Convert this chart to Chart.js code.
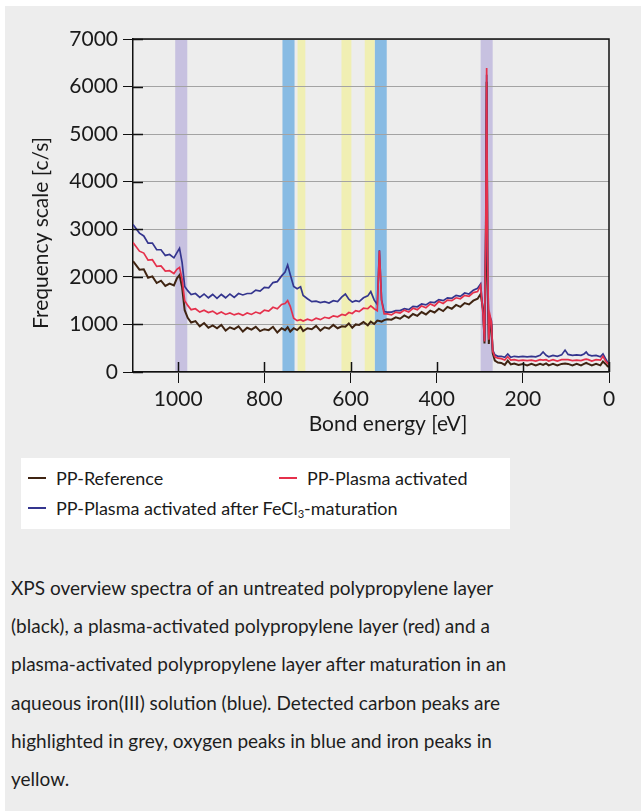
<!DOCTYPE html>
<html>
<head>
<meta charset="utf-8">
<script src="https://cdn.jsdelivr.net/npm/chart.js@4.4.1/dist/chart.umd.min.js"></script>
<style>
    body { margin: 0; background: #fff; font-family: Lato, sans-serif; }
    #panel { position: absolute; left: 5px; top: 6px; width: 636px; height: 805px; background: #ededed; }
    #chartBox { position: absolute; left: 0; top: 0; width: 641px; height: 455px; }
    #legend { position: absolute; left: 21px; top: 458px; width: 489px; height: 71px; background: #fff; }
    .mark { position: absolute; width: 18px; height: 2px; }
    .item { position: absolute; font-size: 18px; line-height: 19px; color: #1a1a1a; white-space: nowrap; }
    .item sub { font-size: 0.62em; vertical-align: -0.3em; line-height: 0; }
    #caption { position: absolute; left: 11px; top: 569px; font-size: 19px; line-height: 38.2px; color: #1e1e1e; white-space: nowrap; }
</style>
</head>
<body>
<div id="panel"></div>
<div id="chartBox"><canvas id="xpsChart"></canvas></div>
<div id="legend"></div>
<div id="caption">XPS overview spectra of an untreated polypropylene layer<br>(black), a plasma-activated polypropylene layer (red) and a<br>plasma-activated polypropylene layer after maturation in an<br>aqueous iron(III) solution (blue). Detected carbon peaks are<br>highlighted in grey, oxygen peaks in blue and iron peaks in<br>yellow.</div>
<script>
// binding energy in eV
const energies = [
    1105, 1090, 1080, 1070, 1060, 1050, 1040, 1030, 1020, 1010,
    1003, 997, 991, 985, 978, 970, 960, 950, 940, 930,
    920, 910, 900, 890, 880, 870, 860, 850, 840, 830,
    820, 810, 800, 790, 780, 770, 760, 752, 746, 740,
    732, 724, 716, 710, 700, 690, 680, 670, 660, 650,
    640, 630, 620, 612, 604, 596, 588, 580, 570, 560,
    553, 545, 538, 533, 528, 522, 515, 505, 495, 485,
    475, 465, 455, 445, 435, 425, 415, 405, 395, 385,
    375, 365, 355, 345, 335, 325, 315, 305, 298, 292,
    289, 286, 284, 282, 279, 276, 273, 270, 265, 258,
    250, 242, 235, 228, 220, 210, 200, 190, 180, 170,
    160, 153, 146, 140, 130, 120, 110, 102, 95, 85,
    75, 65, 58, 53, 48, 40, 30, 20, 14, 8,
    3, 0
];

// counts per second
const ppReference = [
    2330, 2150, 2160, 1980, 2010, 1870, 1920, 1810, 1860, 1820,
    1970, 2040, 1780, 1300, 1140, 1040, 1070, 960, 1030, 930,
    980, 920, 990, 870, 940, 900, 960, 850, 930, 890,
    950, 860, 900, 880, 950, 830, 920, 880, 940, 850,
    920, 880, 950, 860, 920, 900, 970, 870, 940, 910,
    990, 920, 960, 950, 1020, 930, 1000, 990, 1050, 980,
    1060, 1010, 1080, 1070, 1060, 1090, 1110, 1100, 1150, 1120,
    1190, 1140, 1220, 1180, 1260, 1210, 1290, 1250, 1330, 1280,
    1370, 1330, 1410, 1370, 1450, 1420, 1500, 1540, 1640, 1300,
    600, 2600, 6100, 2000, 590, 1050, 1000, 400, 240, 200,
    190, 150, 240, 160, 180, 150, 170, 140, 170, 140,
    170, 150, 180, 140, 170, 140, 170, 180, 170, 140,
    170, 140, 170, 190, 170, 140, 170, 140, 220, 170,
    120, 110
];

const ppPlasma = [
    2720, 2540, 2500, 2350, 2360, 2220, 2230, 2120, 2130, 2070,
    2160, 2200, 1950, 1500, 1400, 1310, 1330, 1260, 1300, 1250,
    1280, 1220, 1260, 1210, 1240, 1200, 1230, 1190, 1240, 1210,
    1260, 1230, 1300, 1280, 1360, 1330, 1420, 1440, 1500, 1380,
    1130, 1080, 1100, 1070, 1110, 1080, 1130, 1100, 1150, 1130,
    1180, 1160, 1210, 1190, 1250, 1230, 1290, 1270, 1340, 1330,
    1390, 1330, 1290, 2550, 1500, 1220, 1220, 1200, 1260, 1240,
    1300, 1260, 1340, 1310, 1390, 1350, 1430, 1390, 1480, 1440,
    1510, 1500, 1560, 1540, 1610, 1590, 1670, 1690, 1820, 1150,
    640, 3100, 6390, 2600, 680, 1180, 1050, 440, 320, 290,
    280, 250, 320, 250, 260, 240, 250, 240, 250, 230,
    260, 250, 260, 230, 260, 230, 260, 260, 260, 240,
    250, 240, 260, 270, 260, 230, 260, 250, 330, 230,
    180, 160
];

const ppFeCl3 = [
    3100, 2920, 2860, 2710, 2710, 2570, 2570, 2450, 2470, 2400,
    2510, 2600, 2300, 1800, 1710, 1630, 1650, 1570, 1640, 1560,
    1630, 1550, 1630, 1560, 1640, 1570, 1650, 1620, 1650, 1650,
    1720, 1700, 1780, 1770, 1880, 1900, 2020, 2100, 2250, 2050,
    1800, 1750, 1790, 1610, 1540, 1480, 1490, 1460, 1480, 1450,
    1500, 1480, 1580, 1640, 1530, 1470, 1500, 1480, 1560, 1600,
    1690, 1510, 1420, 2560, 1520, 1270, 1260, 1260, 1290, 1290,
    1330, 1310, 1380, 1370, 1430, 1410, 1470, 1460, 1520, 1500,
    1560, 1550, 1610, 1590, 1660, 1640, 1720, 1760, 1850, 1200,
    660, 3000, 6250, 2500, 700, 1150, 1080, 460, 360, 330,
    330, 310, 380, 310, 330, 320, 330, 320, 330, 320,
    350, 420, 350, 320, 350, 330, 360, 460, 370, 350,
    360, 350, 380, 420, 360, 340, 350, 320, 380, 280,
    200, 170
];

// highlighted regions [from, to] in eV
const carbonBands = [[1007, 979], [298, 270]];
const oxygenBands = [[758, 730], [544, 516]];
const ironBands = [[723, 705], [621, 598], [567, 544]];

const xTicks = [1000, 800, 600, 400, 200, 0];
const yTicks = [0, 1000, 2000, 3000, 4000, 5000, 6000, 7000];

const seriesNames = ['PP-Reference', 'PP-Plasma activated', 'PP-Plasma activated after FeCl<sub>3</sub>-maturation'];
const seriesColors = ['#3f2412', '#e5304b', '#34358e'];

const FONT = 'Lato, sans-serif';
const INK = '#1a1a1a';

function toPoints(values) {
    return energies.map((e, i) => ({ x: e, y: values[i] }));
}

const decor = {
    id: 'decor',
    beforeDraw(chart) {
        const { ctx, chartArea, scales } = chart;
        const x = scales.x;
        const paint = (bands, color) => {
            ctx.fillStyle = color;
            bands.forEach(([a, b]) => {
                const x1 = x.getPixelForValue(a);
                const x2 = x.getPixelForValue(b);
                ctx.fillRect(x1, chartArea.top, x2 - x1, chartArea.bottom - chartArea.top);
            });
        };
        ctx.save();
        paint(carbonBands, '#c7c1e0');
        paint(oxygenBands, '#88bbe3');
        paint(ironBands, '#f0efb3');
        ctx.restore();
    },
    afterDraw(chart) {
        const { ctx, chartArea, scales } = chart;
        ctx.save();
        ctx.strokeStyle = '#111';
        ctx.lineWidth = 1.5;
        ctx.beginPath();
        ctx.moveTo(chartArea.left, chartArea.top);
        ctx.lineTo(chartArea.right, chartArea.top);
        ctx.lineTo(chartArea.right, chartArea.bottom);
        ctx.stroke();

        // tick marks reaching inside the plot
        ctx.beginPath();
        yTicks.forEach(v => {
            const py = Math.round(scales.y.getPixelForValue(v)) + 0.5;
            ctx.moveTo(chartArea.left, py);
            ctx.lineTo(chartArea.left + 10, py);
        });
        xTicks.forEach(v => {
            const px = Math.round(scales.x.getPixelForValue(v)) + 0.5;
            ctx.moveTo(px, chartArea.bottom);
            ctx.lineTo(px, chartArea.bottom - 10);
        });
        ctx.stroke();

        ctx.fillStyle = INK;
        ctx.font = '21px ' + FONT;
        ctx.textAlign = 'center';
        ctx.textBaseline = 'alphabetic';
        ctx.fillText('Bond energy [eV]', 388, 431);

        ctx.translate(48, 233);
        ctx.rotate(-Math.PI / 2);
        ctx.fillText('Frequency scale [c/s]', 0, 0);
        ctx.restore();
    }
};

function drawChart() {
    const ctx = document.getElementById('xpsChart').getContext('2d');
    new Chart(ctx, {
        type: 'line',
        data: {
            datasets: [
                { label: 'PP-Reference', data: toPoints(ppReference), borderColor: seriesColors[0], borderWidth: 2, order: 2 },
                { label: 'PP-Plasma activated', data: toPoints(ppPlasma), borderColor: seriesColors[1], order: 0 },
                { label: 'PP-Plasma activated after FeCl₃-maturation', data: toPoints(ppFeCl3), borderColor: seriesColors[2], order: 1 }
            ]
        },
        options: {
            responsive: true,
            maintainAspectRatio: false,
            animation: false,
            layout: { padding: { top: 39, right: 32, left: 0, bottom: 0 } },
            elements: {
                line: { borderWidth: 1.7, tension: 0 },
                point: { radius: 0 }
            },
            plugins: {
                legend: { display: false },
                tooltip: { enabled: false }
            },
            scales: {
                x: {
                    type: 'linear',
                    reverse: true,
                    min: 0,
                    max: 1105,
                    afterBuildTicks: s => { s.ticks = xTicks.map(v => ({ value: v })); },
                    afterFit: s => { s.height = 83; },
                    grid: { drawOnChartArea: false, tickColor: '#111', tickLength: 11, tickWidth: 1 },
                    border: { color: '#111', width: 1.5 },
                    ticks: { font: { family: FONT, size: 21 }, color: INK, padding: 4, maxRotation: 0, autoSkip: false, callback: v => String(v) }
                },
                y: {
                    min: 0,
                    max: 7000,
                    afterBuildTicks: s => { s.ticks = yTicks.map(v => ({ value: v })); },
                    afterFit: s => { s.width = 133; },
                    grid: { color: '#a3a3a3', lineWidth: 1, tickColor: '#111', tickLength: 10, tickWidth: 1 },
                    border: { color: '#111', width: 1.5 },
                    ticks: { font: { family: FONT, size: 21 }, color: INK, padding: 5, autoSkip: false, callback: v => String(v) }
                }
            }
        },
        plugins: [decor]
    });
}

function buildLegend() {
    const box = document.getElementById('legend');
    const spots = [[7, 0], [258, 0], [7, 30]];
    seriesNames.forEach((name, i) => {
        const [left, top] = spots[i];
        const mark = document.createElement('div');
        mark.className = 'mark';
        mark.style.left = left + 'px';
        mark.style.top = (top + 19) + 'px';
        mark.style.background = seriesColors[i];
        box.appendChild(mark);

        const label = document.createElement('div');
        label.className = 'item';
        label.style.left = (left + 28) + 'px';
        label.style.top = (top + 11) + 'px';
        label.innerHTML = name;
        box.appendChild(label);
    });
}

buildLegend();
document.fonts.load('21px Lato').then(drawChart, drawChart);
</script>
</body>
</html>
